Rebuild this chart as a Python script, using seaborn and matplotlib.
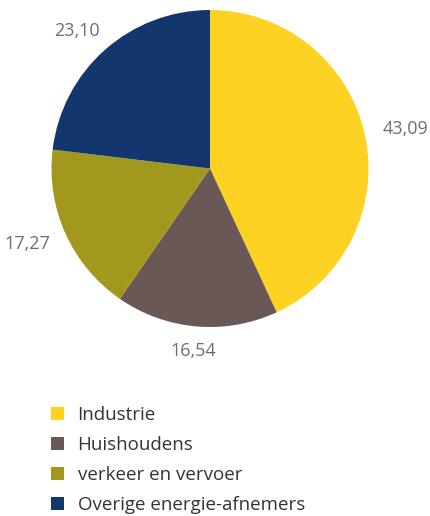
import matplotlib
matplotlib.use("Agg")
import matplotlib.pyplot as plt
import numpy as np
import seaborn as sns

# ── data ──────────────────────────────────────────────────────────────────────
categories = ["Industrie", "Huishoudens", "verkeer en vervoer", "Overige energie-afnemers"]
values = [43.09, 16.54, 17.27, 23.10]
value_labels = ["43,09", "16,54", "17,27", "23,10"]
colors = ["#FDD222", "#6A5856", "#A3981E", "#14366E"]

sns.set_theme(style="white")
plt.rcParams["font.family"] = ["Open Sans", "DejaVu Sans"]

W, H, DPI = 431, 516, 100
fig = plt.figure(figsize=(W / DPI, H / DPI), dpi=DPI)

# pie centre (210, 168.5) px, radius 158.5 px
cx, cy, r = 210, 168.5, 158.5
ax = fig.add_axes([(cx - r) / W, 1 - (cy + r) / H, 2 * r / W, 2 * r / H])

wedges, _ = ax.pie(values, colors=colors, startangle=90, counterclock=False,
                   wedgeprops=dict(linewidth=0))
ax.set_xlim(-1, 1)
ax.set_ylim(-1, 1)
ax.set_aspect("equal")
ax.axis("off")

# value labels: fixed gap from rim to text box
gap, half_w, half_h = 17, 25, 8  # px
for w, lbl in zip(wedges, value_labels):
    ang = np.deg2rad((w.theta1 + w.theta2) / 2)
    c, s = np.cos(ang), np.sin(ang)
    dx = gap * c + half_w * c
    dy = gap * s + half_h * s
    ax.annotate(lbl, xy=(c, s), xytext=(dx * 72 / DPI, dy * 72 / DPI),
                textcoords="offset points", ha="center", va="center",
                fontsize=13, color="#6e6e6e")

fig.legend(wedges, categories, loc="upper left",
           bbox_to_anchor=(51 / W, 1 - 406 / H), frameon=False,
           handlelength=0.7, handleheight=0.7, handletextpad=0.72,
           labelspacing=0.64, fontsize=13.5, labelcolor="#333333",
           borderaxespad=0, borderpad=0)

fig.savefig("out.png", dpi=DPI)
